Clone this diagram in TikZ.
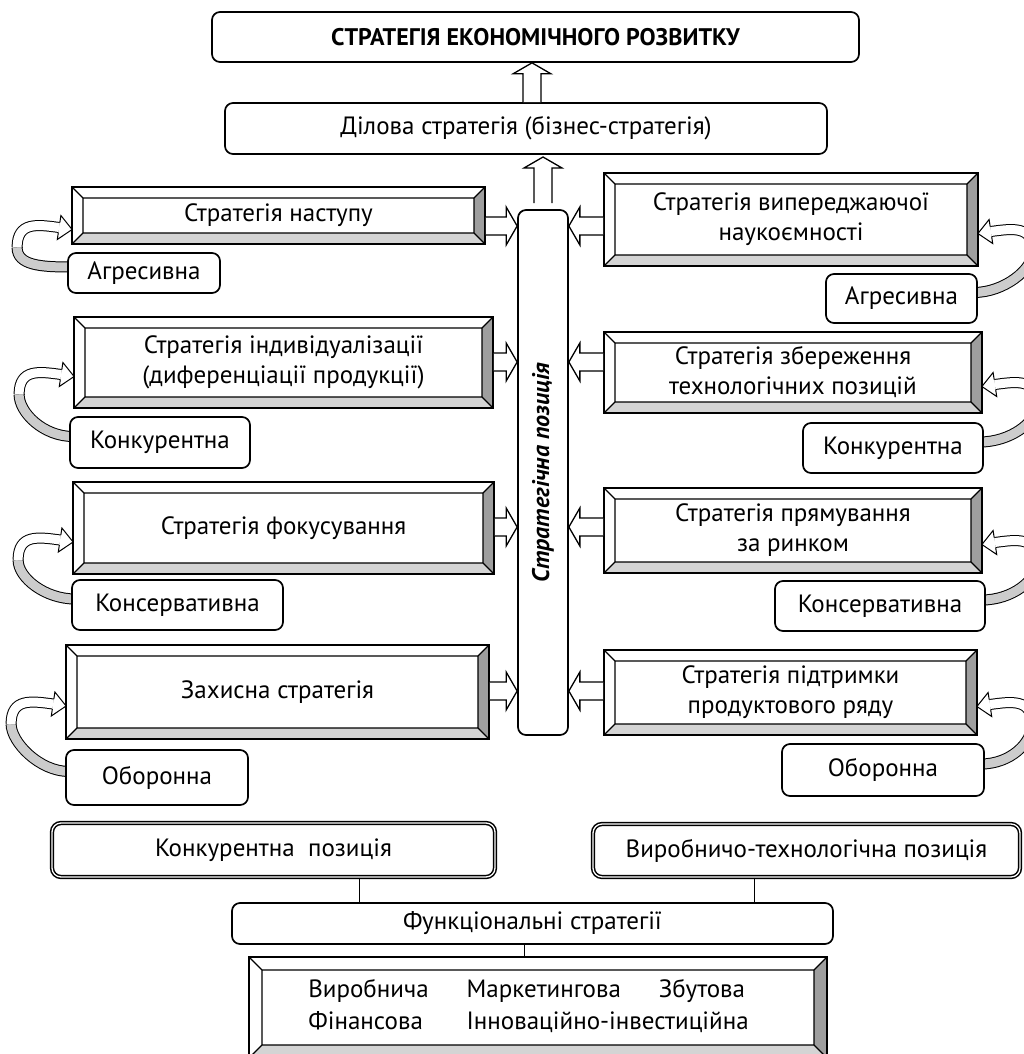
\documentclass[tikz,border=0pt]{standalone}
\usepackage{fontspec}
\setmainfont{PT Sans}
\usetikzlibrary{calc, backgrounds}
\tikzset{>=latex}
\definecolor{bevright}{gray}{0.62}
\definecolor{bevbottom}{gray}{0.83}
\definecolor{ribbongray}{gray}{0.80}

\newcommand{\bevelpic}[1]{%
  \coordinate (bnw) at (path picture bounding box.north west);
  \coordinate (bne) at (path picture bounding box.north east);
  \coordinate (bsw) at (path picture bounding box.south west);
  \coordinate (bse) at (path picture bounding box.south east);
  \coordinate (inw) at ([xshift=#1,yshift=-#1]bnw);
  \coordinate (ine) at ([xshift=-#1,yshift=-#1]bne);
  \coordinate (isw) at ([xshift=#1,yshift=#1]bsw);
  \coordinate (ise) at ([xshift=-#1,yshift=#1]bse);
  \fill[bevright] (bne) -- (bse) -- (ise) -- (ine) -- cycle;
  \fill[bevbottom] (bsw) -- (bse) -- (ise) -- (isw) -- cycle;
  \draw[line width=1.1pt] (inw) rectangle (ise)
    (bnw) -- (inw) (bne) -- (ine) (bsw) -- (isw) (bse) -- (ise);
}

% hollow straight arrow: start, tip
\newcommand{\fatarrow}[2]{%
  \path #1 coordinate (fa-s) #2 coordinate (fa-t);
  \draw[fatline] ($(fa-s)!9pt!90:(fa-t)$)
    -- ($(fa-t)!11pt!(fa-s)!9pt!-90:(fa-s)$)
    -- ($(fa-t)!11pt!(fa-s)!19pt!-90:(fa-s)$)
    -- (fa-t)
    -- ($(fa-t)!11pt!(fa-s)!19pt!90:(fa-s)$)
    -- ($(fa-t)!11pt!(fa-s)!9pt!90:(fa-s)$)
    -- ($(fa-s)!9pt!-90:(fa-t)$);
}

% curved ribbon arrow: label, box, anchor, side (1 left, -1 right)
\newcommand{\twist}[4]{%
  \coordinate (tw-t) at ($(#2.#3)+({#4},14)$);
  \coordinate (tw-h) at ($(tw-t)+({-13*(#4)},-2)$);
  \coordinate (tw-m) at ($(tw-t)+({-55*(#4)},18)$);
  \coordinate (tw-s) at ($(#1.#3)+({4*(#4)},-6)$);
  \draw[ribbonline=ribbongray] (tw-s) .. controls +({-30*(#4)},0) and +(0,18) .. (tw-m);
  \draw[ribbonline=white] (tw-m) .. controls +(0,-26) and +({-22*(#4)},-3) .. (tw-h);
  \filldraw[fill=white, line width=1pt]
    ($(tw-h)+({0.75*(#4)},-5)$) -- ($(tw-h)+({1.8*(#4)},-12)$) -- (tw-t)
    -- ($(tw-h)+({-1.8*(#4)},12)$) -- ($(tw-h)+({-0.75*(#4)},5)$);
}

\tikzset{
  rbox/.style={draw, line width=1.7pt, rounded corners=8pt, fill=white, align=center, inner sep=0pt},
  dbox/.style={draw, double, double distance=1.3pt, line width=1.5pt, rounded corners=9pt, fill=white, align=center, inner sep=0pt},
  bevel/.style={draw, line width=1.8pt, fill=white, align=center, inner sep=0pt, path picture={\bevelpic{#1}}},
  bevel/.default=11pt,
  fatline/.style={draw, line width=1.3pt, fill=white, line join=miter},
  ribbonline/.style={double=#1, double distance=9pt, line width=1pt},
  link/.style={line width=0.9pt}
}

\begin{document}
\begin{tikzpicture}[x=1pt, y=-1pt, font=\fontsize{25}{30}\selectfont]
\useasboundingbox (0,0) rectangle (1023,1054);

\node[rbox, minimum width=647pt, minimum height=50pt, font=\fontsize{24}{28}\selectfont\bfseries] (econ) at (535.5,37) {СТРАТЕГІЯ ЕКОНОМІЧНОГО РОЗВИТКУ};
\node[rbox, minimum width=602pt, minimum height=51pt] (biz) at (526,128.5) {Ділова стратегія (бізнес-стратегія)};
\node[rbox, minimum width=50pt, minimum height=525pt, font=\fontsize{24}{28}\selectfont\bfseries\itshape] (pos) at (543,472.5) {\rotatebox{90}{Стратегічна позиція}};

% left column
\node[bevel, minimum width=413pt, minimum height=57pt] (L1) at (278.5,215.5) {Стратегія наступу};
\node[bevel, minimum width=419pt, minimum height=91pt] (L2) at (283.5,362.5) {Стратегія індивідуалізації\\(диференціації продукції)};
\node[bevel, minimum width=421pt, minimum height=92pt] (L3) at (283.5,528) {Стратегія фокусування};
\node[bevel, minimum width=423pt, minimum height=94pt] (L4) at (277.5,692) {Захисна стратегія};
\node[rbox, minimum width=152pt, minimum height=40pt] (LA1) at (144,273) {Агресивна};
\node[rbox, minimum width=180pt, minimum height=51pt] (LA2) at (160,442.5) {Конкурентна};
\node[rbox, minimum width=211pt, minimum height=50pt] (LA3) at (177.5,605) {Консервативна};
\node[rbox, minimum width=182pt, minimum height=55pt] (LA4) at (157,777.5) {Оборонна};

% right column
\node[bevel, minimum width=374pt, minimum height=93pt] (R1) at (791,219.5) {Стратегія випереджаючої\\наукоємності};
\node[bevel, minimum width=378pt, minimum height=81pt] (R2) at (793,372.5) {Стратегія збереження\\технологічних позицій};
\node[bevel, minimum width=378pt, minimum height=85pt] (R3) at (793,530.5) {Стратегія прямування\\за ринком};
\node[bevel, minimum width=373pt, minimum height=85pt] (R4) at (790.5,692.5) {Стратегія підтримки\\продуктового ряду};
\node[rbox, minimum width=151pt, minimum height=49pt] (RA1) at (901.5,298.5) {Агресивна};
\node[rbox, minimum width=180pt, minimum height=50pt] (RA2) at (893,448) {Конкурентна};
\node[rbox, minimum width=210pt, minimum height=50pt] (RA3) at (880,606) {Консервативна};
\node[rbox, minimum width=202pt, minimum height=52pt] (RA4) at (883,770) {Оборонна};

% bottom
\node[dbox, minimum width=443pt, minimum height=54pt] (konk) at (273.5,850) {Конкурентна\ \ позиція};
\node[dbox, minimum width=427pt, minimum height=53pt] (vyr) at (806.5,850.5) {Виробничо-технологічна позиція};
\node[rbox, minimum width=601pt, minimum height=41pt] (funk) at (532.5,923.5) {Функціональні стратегії};
\node[bevel=13pt, minimum width=578pt, minimum height=101pt] (fset) at (538,1007.5) {\setlength{\tabcolsep}{19pt}\renewcommand{\arraystretch}{1.07}%
  \begin{tabular}{@{}lll@{}}Виробнича & Маркетингова & Збутова\\ Фінансова & \multicolumn{2}{l}{Інноваційно-інвестиційна}\end{tabular}};

\fatarrow{(biz.north -| 532,0)}{(econ.south -| 532,0)}
\fatarrow{(pos.north |- 0,203)}{(pos.north |- 0,157)}
\foreach \b/\y in {1/226, 2/362, 3/527, 4/691}{
  \fatarrow{(L\b.east |- 0,\y)}{(pos.west |- 0,\y)}
  \fatarrow{(R\b.west |- 0,\y)}{(pos.east |- 0,\y)}
}

\begin{scope}[on background layer]
\foreach \b in {1,2,3,4}{
  \twist{LA\b}{L\b}{west}{1}
  \twist{RA\b}{R\b}{east}{-1}
}
\end{scope}

\coordinate (k1) at ($(konk.south west)!0.693!(konk.south east)$);
\coordinate (v1) at ($(vyr.south west)!0.379!(vyr.south east)$);
\coordinate (f1) at ($(funk.south west)!0.486!(funk.south east)$);
\draw[link] (k1) -- (k1 |- funk.north);
\draw[link] (v1) -- (v1 |- funk.north);
\draw[link] (f1) -- (f1 |- fset.north);
\end{tikzpicture}
\end{document}
